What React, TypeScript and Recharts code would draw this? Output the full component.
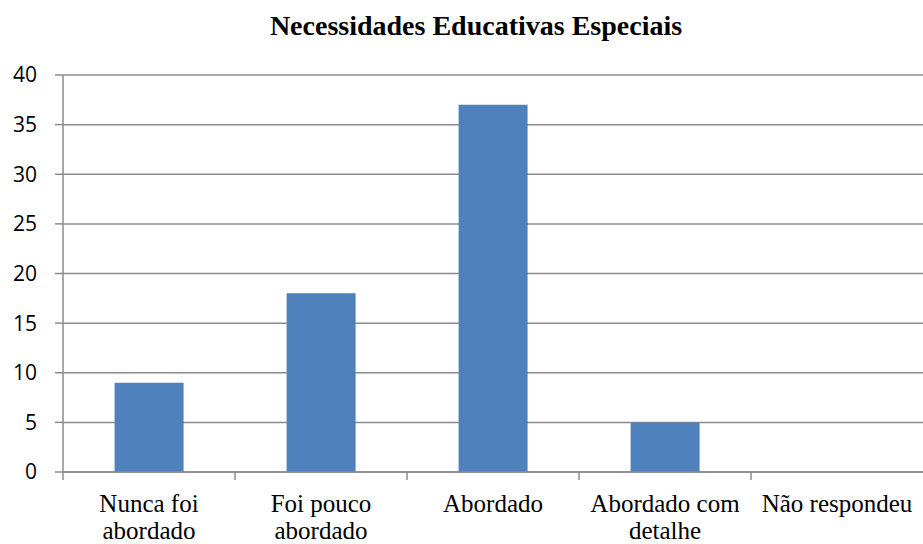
import { BarChart, Bar, XAxis, YAxis, CartesianGrid } from "recharts";

const categories = [
  "Nunca foi\nabordado",
  "Foi pouco\nabordado",
  "Abordado",
  "Abordado com\ndetalhe",
  "Não respondeu",
];
const values = [9, 18, 37, 5, 0];
const yTicks = [0, 5, 10, 15, 20, 25, 30, 35, 40];

const W = 923;
const H = 544;
const Y_AXIS_W = 63;
const GRAY = "#8c8c8c";
const halfBand = (W - Y_AXIS_W) / categories.length / 2;

const data = categories.map((name, i) => ({ name, value: values[i] }));

function CatTick(props: any) {
  const { x, y, payload } = props;
  const lines = String(payload.value).split("\n");
  return (
    <g>
      <line x1={x - halfBand} y1={y} x2={x - halfBand} y2={y + 8} stroke={GRAY} strokeWidth={1.5} />
      <text
        x={x}
        y={y + 40}
        textAnchor="middle"
        fontFamily="'Liberation Serif', 'Times New Roman', serif"
        fontSize={25}
        fill="#000"
      >
        {lines.map((l, i) => (
          <tspan key={i} x={x} dy={i === 0 ? 0 : 27}>
            {l}
          </tspan>
        ))}
      </text>
    </g>
  );
}

export default function App() {
  return (
    <div style={{ position: "absolute", left: 0, top: 0, width: W, height: H, background: "#fff" }}>
      <div
        style={{
          position: "absolute",
          left: 0,
          top: 12,
          width: 952,
          textAlign: "center",
          fontFamily: "'Liberation Serif', 'Times New Roman', serif",
          fontWeight: "bold",
          fontSize: 28,
          lineHeight: "28px",
          color: "#000",
        }}
      >
        Necessidades Educativas Especiais
      </div>
      <BarChart
        width={W}
        height={H}
        data={data}
        margin={{ top: 75, right: 0, left: 0, bottom: 0 }}
        barCategoryGap="30%"
      >
        <CartesianGrid vertical={false} stroke={GRAY} strokeWidth={1.5} />
        <XAxis
          dataKey="name"
          height={72}
          interval={0}
          tickLine={false}
          tickSize={0}
          tickMargin={0}
          axisLine={{ stroke: GRAY, strokeWidth: 1.5 }}
          tick={<CatTick />}
        />
        <YAxis
          width={Y_AXIS_W}
          domain={[0, 40]}
          ticks={yTicks}
          interval={0}
          tickSize={8}
          tickMargin={18}
          tickLine={{ stroke: GRAY, strokeWidth: 1.5 }}
          axisLine={{ stroke: GRAY, strokeWidth: 1.5 }}
          tick={{ fill: "#000", fontSize: 21, fontFamily: "'Open Sans', sans-serif" }}
        />
        <Bar dataKey="value" fill="#4f81bd" isAnimationActive={false} />
      </BarChart>
    </div>
  );
}
